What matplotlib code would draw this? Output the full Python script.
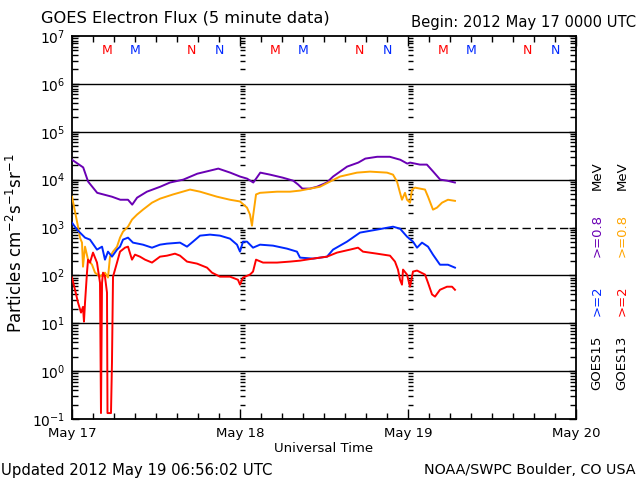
import numpy as np
import matplotlib
matplotlib.use("Agg")
import matplotlib.pyplot as plt
from matplotlib.ticker import MultipleLocator, LogLocator, NullFormatter, FixedLocator
import matplotlib.transforms as mtransforms

# ---------------- data (hours since 2012 May 17 00:00 UT) ----------------
g15_08_hours = [0, 1.6, 2.3, 3.6, 5.7, 6.9, 8.0, 8.6, 9.3, 10.7, 12.6, 14.0, 15.9, 17.9, 19.7,
                20.9, 22.6, 24.0, 25.0, 25.9, 26.4, 26.9, 28.3, 30.1, 31.6, 32.3, 32.9, 34.0,
                35.0, 36.4, 37.3, 39.3, 40.9, 41.9, 43.6, 45.4, 46.9, 47.9, 48.3, 49.7, 50.7,
                51.6, 52.6, 53.6, 54.7]
g15_08_flux = [2.6e4, 1.8e4, 9.1e3, 5.3e3, 4.4e3, 3.8e3, 3.8e3, 3.0e3, 4.2e3, 5.6e3, 7.1e3,
               8.7e3, 1.0e4, 1.33e4, 1.54e4, 1.7e4, 1.4e4, 1.16e4, 1.05e4, 8.7e3, 1.1e4, 1.4e4,
               1.27e4, 1.1e4, 9.5e3, 7.9e3, 6.5e3, 6.5e3, 7.1e3, 8.7e3, 1.16e4, 1.87e4, 2.27e4,
               2.75e4, 3.0e4, 3.0e4, 2.6e4, 2.16e4, 2.27e4, 2.06e4, 2.06e4, 1.47e4, 1.0e4,
               9.5e3, 8.7e3]

g13_08_hours = [0, 0.43, 0.86, 1.14, 1.43, 1.57, 1.86, 2.29, 2.86, 3.29, 4.0, 4.71, 5.14, 5.43,
                5.86, 6.43, 6.86, 7.29, 8.0, 8.57, 9.29, 10.14, 11.43, 12.57, 14.43, 16.86,
                18.29, 20.71, 22.57, 24.0, 25.0, 25.43, 25.71, 25.86, 26.29, 26.86, 29.29,
                31.14, 32.57, 35.43, 36.86, 38.29, 40.71, 42.57, 45.0, 45.86, 46.43, 46.86,
                47.14, 47.57, 47.86, 48.29, 48.57, 49.0, 50.43, 50.86, 51.57, 52.14, 52.86,
                53.71, 54.71]
g13_08_flux = [4.4e3, 2.15e3, 1.04e3, 614, 483, 152, 398, 213, 167, 114, 94, 114, 90, 246, 313,
               398, 614, 820, 1.04e3, 1.46e3, 1.86e3, 2.36e3, 3.3e3, 4.0e3, 4.9e3, 6.2e3, 5.6e3,
               4.4e3, 3.8e3, 3.5e3, 2.6e3, 1.86e3, 1.09e3, 1.69e3, 4.9e3, 5.3e3, 5.6e3, 5.6e3,
               5.9e3, 7.1e3, 9.1e3, 1.16e4, 1.4e4, 1.47e4, 1.4e4, 1.27e4, 9.1e3, 5.3e3, 3.8e3,
               5.3e3, 3.8e3, 3.3e3, 6.2e3, 6.8e3, 6.2e3, 4.4e3, 2.36e3, 2.6e3, 3.3e3, 3.8e3,
               3.6e3]

g15_2_hours = [0, 0.71, 1.14, 1.86, 2.57, 3.57, 4.29, 4.71, 5.14, 5.71, 6.43, 6.86, 7.29, 8.0,
               8.71, 10.14, 11.43, 12.57, 13.57, 15.43, 16.43, 17.29, 18.29, 19.71, 21.14, 22.57,
               23.57, 24.0, 24.43, 25.0, 25.86, 26.86, 28.71, 30.71, 32.14, 32.57, 34.43, 36.43,
               37.29, 39.29, 41.14, 43.57, 45.86, 46.86, 47.86, 48.71, 49.29, 50.0, 50.86, 51.57,
               52.57, 53.71, 54.71]
g15_2_flux = [1.26e3, 904, 782, 614, 558, 345, 398, 213, 313, 246, 345, 398, 558, 614, 483, 438,
              379, 438, 460, 483, 398, 507, 676, 710, 676, 585, 438, 313, 507, 507, 379, 438,
              418, 362, 313, 235, 224, 246, 345, 507, 782, 904, 1.04e3, 946, 644, 507, 379, 483,
              398, 271, 167, 167, 145]

g13_2_hours = [0, 0.43, 0.86, 1.29, 1.57, 1.71, 1.86, 2.14, 2.29, 2.57, 3.0, 3.57, 4.0, 4.14,
               4.29, 4.43, 4.71, 5.0, 5.07, 5.57, 5.71, 5.86, 6.43, 6.86, 7.57, 8.0, 8.57, 9.0,
               9.71, 10.43, 11.43, 12.57, 13.57, 14.71, 15.43, 16.43, 17.86, 19.29, 20.0, 21.14,
               22.57, 23.71, 24.0, 24.43, 25.43, 25.86, 26.29, 27.29, 29.29, 31.14, 32.57, 34.43,
               36.43, 37.86, 39.71, 40.86, 41.57, 43.57, 45.43, 46.14, 46.57, 46.86, 47.14,
               47.29, 47.86, 48.29, 48.71, 49.29, 50.43, 50.86, 51.43, 51.86, 52.57, 53.57,
               54.29, 54.71]
g13_2_flux = [90, 50, 27, 16.7, 22, 10.8, 27, 114, 213, 185, 299, 185, 70, 0.133, 70, 114, 94,
              43.6, 0.133, 0.133, 1.5, 94, 185, 313, 379, 398, 213, 271, 246, 213, 185, 246,
              258, 284, 258, 194, 176, 145, 114, 94, 94, 81, 64, 90, 104, 120, 213, 185, 185,
              194, 203, 224, 246, 299, 345, 379, 313, 284, 258, 194, 132, 81, 64, 132, 104, 58,
              120, 126, 104, 70, 40, 36, 50, 58, 58, 50]

# local midnight (M) / noon (N) markers for GOES13 (red) and GOES15 (blue)
mn_hours = [5, 9, 17, 21, 29, 33, 41, 45, 53, 57, 65, 69]
mn_labels = ['M', 'M', 'N', 'N', 'M', 'M', 'N', 'N', 'M', 'M', 'N', 'N']
mn_sat = ['G13', 'G15'] * 6

day_hours = [0, 24, 48, 72]
day_labels = ['May 17', 'May 18', 'May 19', 'May 20']
decades = [1e-1, 1e0, 1e1, 1e2, 1e3, 1e4, 1e5, 1e6, 1e7]

C_PURPLE = '#6a00b4'
C_ORANGE = '#ffa500'
C_BLUE = '#0028ff'
C_RED = '#ff0000'
sat_color = {'G13': C_RED, 'G15': C_BLUE}

# ---------------- figure ----------------
W, H = 640, 480
fig = plt.figure(figsize=(6.4, 4.8), dpi=100)
ax = fig.add_axes([72 / W, 1 - 419 / H, (576 - 72) / W, (419 - 36) / H])
ax.set_yscale('log')
ax.set_xlim(0, 72)
ax.set_ylim(1e-1, 1e7)

# horizontal decade lines
for d in decades[1:-1]:
    if d == 1e3:
        ax.axhline(d, color='black', lw=1.0, ls=(0, (6, 3)), zorder=1)
    else:
        ax.axhline(d, color='black', lw=1.0, zorder=1)

# day-boundary tick columns
minor_vals = [m * 10.0 ** e for e in range(-1, 7) for m in range(2, 10)]
for dh in day_hours[1:-1]:
    ax.hlines(minor_vals, dh, dh + 0.75, color='black', lw=1.0, zorder=1)

lw = 1.4
ax.plot(g15_08_hours, g15_08_flux, color=C_PURPLE, lw=lw, zorder=3)
ax.plot(g13_08_hours, g13_08_flux, color=C_ORANGE, lw=lw, zorder=3)
ax.plot(g15_2_hours, g15_2_flux, color=C_BLUE, lw=lw, zorder=3)
ax.plot(g13_2_hours, g13_2_flux, color=C_RED, lw=lw, zorder=3)

# M / N markers
trans = mtransforms.blended_transform_factory(ax.transData, ax.transAxes)
for h, lab, s in zip(mn_hours, mn_labels, mn_sat):
    ax.text(h, (419 - 50) / 383, lab, transform=trans, ha='center', va='center',
            color=sat_color[s], fontsize=9)

# ticks
ax.xaxis.set_major_locator(FixedLocator(day_hours))
ax.xaxis.set_minor_locator(MultipleLocator(3))
ax.set_xticklabels(day_labels)
ax.yaxis.set_major_locator(LogLocator(base=10, numticks=20))
ax.yaxis.set_minor_locator(LogLocator(base=10, subs=np.arange(2, 10), numticks=20))
ax.yaxis.set_minor_formatter(NullFormatter())
ax.tick_params(which='both', direction='in', top=True, right=True, width=1.0)
ax.tick_params(axis='x', which='major', length=7, pad=6, labelsize=9.5)
ax.tick_params(axis='x', which='minor', length=4)
ax.tick_params(axis='y', which='major', length=5, pad=5, labelsize=10)
ax.tick_params(axis='y', which='minor', length=4)
for sp in ax.spines.values():
    sp.set_linewidth(1.3)

# texts
def fx(px):
    return px / W

def fy(py):
    return 1 - py / H

fig.text(fx(41), fy(18), 'GOES Electron Flux (5 minute data)', ha='left', va='center', fontsize=11.7)
fig.text(fx(636), fy(22), 'Begin: 2012 May 17 0000 UTC', ha='right', va='center', fontsize=10.6)
fig.text(fx(324), fy(448), 'Universal Time', ha='center', va='center', fontsize=9.5)
fig.text(fx(1), fy(470), 'Updated 2012 May 19 06:56:02 UTC', ha='left', va='center', fontsize=10.7)
fig.text(fx(636), fy(470), 'NOAA/SWPC Boulder, CO USA', ha='right', va='center', fontsize=10.3)
fig.text(fx(16), fy(243), r'Particles cm$^{-2}$s$^{-1}$sr$^{-1}$', rotation=90,
         ha='center', va='center', fontsize=12)

legend_cols = [
    (597, [('GOES15', 'black', 390), ('>=2', C_BLUE, 316), ('>=0.8', C_PURPLE, 257), ('MeV', 'black', 190)]),
    (622, [('GOES13', 'black', 390), ('>=2', C_RED, 316), ('>=0.8', C_ORANGE, 257), ('MeV', 'black', 190)]),
]
for xpx, items in legend_cols:
    for txt, col, ypx in items:
        fig.text(fx(xpx), fy(ypx), txt, rotation=90, ha='center', va='bottom',
                 color=col, fontsize=9.5)

fig.savefig('out.png', dpi=100)
